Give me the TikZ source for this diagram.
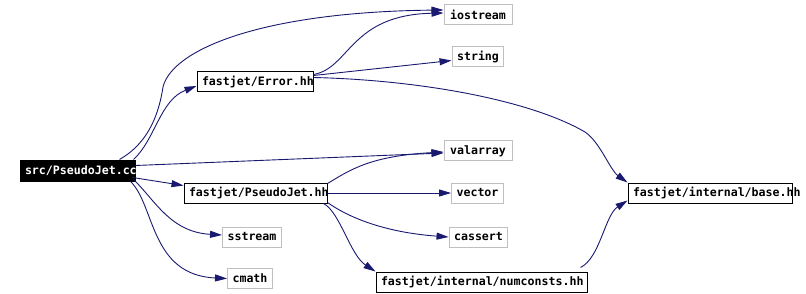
\documentclass[tikz,border=0pt]{standalone}
\usepackage{fontspec}
\setmonofont{DejaVu Sans Mono}
\usetikzlibrary{arrows.meta,calc}
\definecolor{edgeblue}{RGB}{25,25,112}
\definecolor{boxgray}{RGB}{191,191,191}
\newcommand{\lbx}[2]{\makebox[#1][l]{#2}}
\tikzset{
  every node/.style={font=\ttfamily\bfseries\fontsize{11.6pt}{13pt}\selectfont, inner ysep=0pt, inner xsep=5pt, minimum height=20pt, line width=1pt},
  srcbox/.style={draw=black, fill=black, text=white},
  hbox/.style={draw=black, fill=white},
  gbox/.style={draw=boxgray, fill=white, text=black},
  edge/.style={draw=edgeblue, line width=0.9pt, -{Triangle[length=12pt,width=7pt]}, color=edgeblue}
}
\begin{document}
\begin{tikzpicture}[x=1pt,y=-1pt]
\useasboundingbox (0,0) rectangle (806,294);
% nodes
\node[srcbox] (cc) at (77.5,171) {\lbx{105pt}{src/PseudoJet.cc}};
\node[hbox] (err) at (255,82) {\lbx{106pt}{fastjet/Error.hh}};
\node[hbox] (pjh) at (255.5,193) {\lbx{133pt}{fastjet/PseudoJet.hh}};
\node[hbox] (numc) at (481.5,282) {\lbx{201pt}{fastjet/internal/numconsts.hh}};
\node[hbox] (base) at (710,193) {\lbx{154pt}{fastjet/internal/base.hh}};
\node[gbox, minimum width=68pt] (iostream) at (478,15) {iostream};
\node[gbox, minimum width=50pt] (string) at (478,56.5) {string};
\node[gbox, minimum width=68pt] (valarray) at (478,151) {valarray};
\node[gbox, minimum width=51pt] (vector) at (477.5,193) {vector};
\node[gbox, minimum width=53pt] (cassert) at (478.5,237) {cassert};
\node[gbox, minimum width=56pt] (sstream) at (252,237) {sstream};
\node[gbox, minimum width=44pt] (cmath) at (250,278.5) {cmath};
% edges from src/PseudoJet.cc
\draw[edge] ($(cc.north west)+(100,-1)$) .. controls (145,145) and (158,120) .. (163,87)
  .. controls (172,50) and (260,12) .. ($(iostream.west)+(0,-5)$);
\draw[edge] ($(cc.north east)+(-2,-1)$) .. controls (155,140) and (160,100) .. ($(err.west)+(0,4)$);
\draw[edge] ($(cc.north east)+(0,5)$) -- ($(valarray.west)+(0,2)$);
\draw[edge] ($(cc.south east)+(-3,-4)$) -- ($(pjh.north west)+(0,3)$);
\draw[edge] ($(cc.south east)+(-2,-2)$) .. controls (155,200) and (170,232) .. ($(sstream.west)+(0,-2)$);
\draw[edge] ($(cc.south east)+(-5,0)$) .. controls (155,205) and (150,275) .. (cmath.west);
% edges from fastjet/Error.hh
\draw[edge] ($(err.north east)+(0,3)$) .. controls (350,68) and (350,15) .. ($(iostream.west)+(0,-2)$);
\draw[edge] ($(err.north east)+(0,4)$) -- ($(string.west)+(0,4)$);
\draw[edge] ($(err.north east)+(0,6)$) .. controls (420,80) and (530,100) .. (585,132)
  .. controls (600,142) and (610,170) .. (base.north west);
% edges from fastjet/PseudoJet.hh
\draw[edge] ($(pjh.north east)+(0,1)$) .. controls (350,170) and (370,156) .. ($(valarray.west)+(0,1)$);
\draw[edge] (pjh.east) -- (vector.west);
\draw[edge] ($(pjh.south east)+(0,-1)$) .. controls (345,215) and (380,232) .. (cassert.west);
\draw[edge] ($(pjh.south east)+(-4,0)$) .. controls (340,212) and (350,255) .. (numc.north west);
% edge from numconsts
\draw[edge] ($(numc.north east)+(-7,-4)$) .. controls (600,258) and (605,215) .. ($(base.south west)+(0,-3)$);
\end{tikzpicture}
\end{document}
